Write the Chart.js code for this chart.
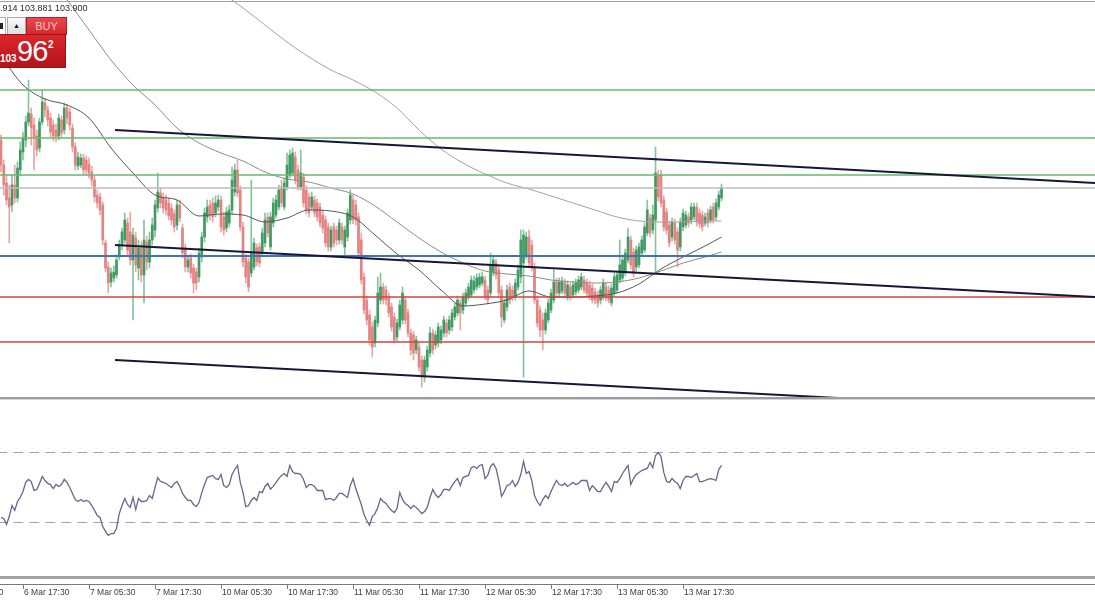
<!DOCTYPE html>
<html>
<head>
<meta charset="utf-8">
<script src="https://cdn.jsdelivr.net/npm/chart.js@4.4.0/dist/chart.umd.min.js"></script>
<style>
  html, body { margin: 0; padding: 0; background: #fff; }
  #wrap { position: relative; width: 1095px; height: 600px; overflow: hidden; font-family: "Liberation Sans", Arial, sans-serif; }
  canvas { position: absolute; left: 0; }
  #main { top: 0; }
  #rsi { top: 400px; }
  .topline { position: absolute; left: 0; top: 1px; width: 1095px; height: 1px; background: #a4a4a4; }
  .sep { position: absolute; left: 0; top: 397px; width: 1095px; height: 2px; background: #9c9c9c; }
  .sep2 { position: absolute; left: 0; top: 399px; width: 1095px; height: 1px; background: #d4d4d4; }
  #ohlc { position: absolute; left: 0; top: 3px; font-size: 9px; color: #2a2a2a; }
  #tw { position: absolute; left: 0; top: 17px; width: 67px; height: 50px; }
  #tw .ico { position: absolute; left: 0; top: 0; width: 5px; height: 16px; background: #fff; border: 1px solid #b0b0b0; border-left: none; }
  #tw .ico i { position: absolute; left: 0; top: 5px; width: 3px; height: 6px; background: #222; }
  #tw .up { position: absolute; left: 7px; top: 0; width: 17px; height: 16px; background: linear-gradient(#fafafa, #dedede); border: 1px solid #a8a8a8; font-size: 7px; line-height: 16px; text-align: center; color: #111; }
  #tw .buy { position: absolute; left: 26px; top: 0; width: 39px; height: 16px; background: linear-gradient(#e8484d, #d22a31); border: 1px solid #b71b22; color: #f9c3c3; font-size: 11px; line-height: 16px; text-align: center; }
  #tw .px { position: absolute; left: 0; top: 17px; width: 65px; height: 32px; background: linear-gradient(#dc262d, #b4121a); border: 1px solid #a40f16; border-left: none; color: #fff; }
  #tw .px .a { position: absolute; left: 0; top: 18px; font-size: 10px; font-weight: bold; }
  #tw .px .b { position: absolute; left: 17px; top: 0; font-size: 29px; letter-spacing: -1px; }
  #tw .px .c { position: absolute; left: 48px; top: 4px; font-size: 10px; font-weight: bold; }
</style>
</head>
<body>
<div id="wrap">
  <canvas id="main" width="1095" height="397"></canvas>
  <canvas id="rsi" width="1095" height="200"></canvas>
  <div class="topline"></div>
  <div class="sep"></div>
  <div class="sep2"></div>
  <div id="ohlc">.914 103.881 103.900</div>
  <div id="tw">
    <div class="ico"><i></i></div>
    <div class="up">&#9650;</div>
    <div class="buy">BUY</div>
    <div class="px"><span class="a">103</span><span class="b">96</span><span class="c">2</span></div>
  </div>
</div>
<script>
// 30 minute candles, index 0 = first visible bar
const candleOpen = [
  104.200, 104.075, 103.985, 103.910, 103.875, 103.975, 103.910, 104.050, 104.140, 104.200,
  104.290, 104.330, 104.275, 104.220, 104.160, 104.290, 104.385, 104.350, 104.310, 104.275,
  104.250, 104.220, 104.300, 104.250, 104.360, 104.340, 104.260, 104.165, 104.070, 104.075,
  104.110, 104.100, 104.080, 104.040, 104.000, 103.925, 103.915, 103.875, 103.685, 103.565,
  103.490, 103.510, 103.525, 103.615, 103.675, 103.700, 103.785, 103.740, 103.600, 103.710,
  103.560, 103.660, 103.525, 103.690, 103.590, 103.700, 103.750, 103.860, 103.935, 103.910,
  103.900, 103.885, 103.860, 103.830, 103.775, 103.875, 103.760, 103.660, 103.565, 103.610,
  103.560, 103.540, 103.515, 103.615, 103.715, 103.815, 103.875, 103.885, 103.835, 103.865,
  103.900, 103.815, 103.760, 103.785, 103.850, 103.940, 104.050, 103.950, 103.765, 103.610,
  103.590, 103.535, 103.565, 103.660, 103.665, 103.635, 103.685, 103.815, 103.665, 103.785,
  103.825, 103.865, 103.965, 103.865, 103.965, 104.025, 104.035, 104.115, 104.050, 103.965,
  104.015, 103.950, 103.915, 103.865, 103.900, 103.885, 103.865, 103.825, 103.800, 103.765,
  103.665, 103.765, 103.750, 103.700, 103.765, 103.665, 103.715, 103.800, 103.900, 103.875,
  103.815, 103.700, 103.515, 103.400, 103.325, 103.265, 103.185, 103.285, 103.400, 103.465,
  103.450, 103.415, 103.365, 103.315, 103.215, 103.265, 103.300, 103.400, 103.335, 103.235,
  103.225, 103.150, 103.165, 103.100, 103.015, 103.065, 103.135, 103.235, 103.175, 103.185,
  103.200, 103.235, 103.285, 103.250, 103.265, 103.315, 103.335, 103.385, 103.350, 103.385,
  103.415, 103.425, 103.450, 103.465, 103.475, 103.485, 103.500, 103.450, 103.435, 103.535,
  103.585, 103.550, 103.450, 103.300, 103.365, 103.465, 103.450, 103.415, 103.465, 103.515,
  103.585, 103.625, 103.715, 103.675, 103.565, 103.400, 103.350, 103.300, 103.250, 103.300,
  103.350, 103.400, 103.490, 103.435, 103.445, 103.485, 103.415, 103.465, 103.425, 103.440,
  103.450, 103.465, 103.500, 103.485, 103.475, 103.460, 103.440, 103.425, 103.400, 103.415,
  103.465, 103.450, 103.385, 103.435, 103.450, 103.500, 103.510, 103.535, 103.600, 103.700,
  103.640, 103.565, 103.575, 103.635, 103.650, 103.735, 103.810, 103.750, 103.800, 104.025,
  104.025, 103.900, 103.840, 103.775, 103.715, 103.785, 103.740, 103.665, 103.765, 103.775,
  103.815, 103.800, 103.815, 103.865, 103.835, 103.825, 103.785, 103.835, 103.800, 103.865,
  103.815, 103.865, 103.910
];
const candleHigh = [
  104.225, 104.100, 104.025, 103.975, 104.025, 104.075, 104.090, 104.190, 104.240, 104.320,
  104.500, 104.360, 104.310, 104.250, 104.310, 104.450, 104.410, 104.370, 104.335, 104.300,
  104.280, 104.330, 104.320, 104.385, 104.380, 104.360, 104.280, 104.185, 104.140, 104.130,
  104.130, 104.120, 104.110, 104.070, 104.020, 103.950, 103.935, 103.890, 103.700, 103.590,
  103.560, 103.570, 103.625, 103.700, 103.760, 103.835, 103.810, 103.840, 103.760, 103.740,
  103.700, 103.690, 103.800, 103.720, 103.740, 103.810, 103.900, 104.035, 103.960, 103.935,
  103.925, 103.910, 103.880, 103.850, 103.900, 103.900, 103.780, 103.680, 103.625, 103.630,
  103.580, 103.560, 103.660, 103.740, 103.860, 103.900, 103.900, 103.910, 103.920, 103.925,
  103.920, 103.840, 103.865, 103.875, 104.065, 104.080, 104.100, 103.970, 103.790, 103.630,
  103.610, 104.000, 103.710, 103.680, 103.685, 103.760, 103.835, 103.835, 103.840, 103.910,
  103.925, 103.975, 104.000, 104.010, 104.135, 104.150, 104.160, 104.140, 104.075, 104.150,
  104.035, 103.970, 103.935, 103.940, 103.920, 103.905, 103.885, 103.845, 103.820, 103.785,
  103.770, 103.785, 103.770, 103.805, 103.785, 103.770, 103.855, 103.950, 103.925, 103.900,
  103.835, 103.735, 103.535, 103.420, 103.350, 103.290, 103.320, 103.515, 103.535, 103.485,
  103.470, 103.435, 103.385, 103.335, 103.305, 103.400, 103.465, 103.420, 103.355, 103.255,
  103.245, 103.220, 103.185, 103.120, 103.120, 103.170, 103.265, 103.255, 103.245, 103.285,
  103.270, 103.320, 103.305, 103.320, 103.355, 103.385, 103.420, 103.405, 103.435, 103.455,
  103.485, 103.520, 103.520, 103.530, 103.535, 103.540, 103.520, 103.470, 103.635, 103.625,
  103.605, 103.570, 103.470, 103.405, 103.475, 103.485, 103.470, 103.505, 103.575, 103.750,
  103.750, 103.740, 103.750, 103.700, 103.585, 103.420, 103.370, 103.335, 103.355, 103.405,
  103.455, 103.550, 103.510, 103.510, 103.515, 103.505, 103.495, 103.485, 103.495, 103.505,
  103.520, 103.535, 103.520, 103.505, 103.495, 103.480, 103.460, 103.445, 103.470, 103.505,
  103.485, 103.470, 103.480, 103.535, 103.545, 103.700, 103.625, 103.655, 103.760, 103.720,
  103.660, 103.670, 103.685, 103.720, 103.785, 103.900, 103.830, 103.875, 104.165, 104.050,
  104.050, 103.920, 103.860, 103.795, 103.810, 103.805, 103.760, 103.810, 103.855, 103.845,
  103.835, 103.885, 103.885, 103.885, 103.855, 103.845, 103.835, 103.855, 103.870, 103.885,
  103.905, 103.945, 103.980
];
const candleLow = [
  104.040, 103.925, 103.875, 103.685, 103.840, 103.885, 103.890, 104.020, 104.100, 104.165,
  104.270, 104.175, 104.050, 104.120, 104.140, 104.275, 104.315, 104.270, 104.215, 104.195,
  104.190, 104.200, 104.215, 104.230, 104.280, 104.250, 104.140, 104.050, 104.050, 104.060,
  104.025, 104.025, 104.010, 103.970, 103.890, 103.860, 103.825, 103.675, 103.540, 103.435,
  103.465, 103.490, 103.510, 103.600, 103.650, 103.685, 103.625, 103.575, 103.300, 103.540,
  103.500, 103.490, 103.385, 103.550, 103.560, 103.675, 103.715, 103.840, 103.860, 103.835,
  103.825, 103.800, 103.775, 103.740, 103.750, 103.790, 103.610, 103.540, 103.540, 103.510,
  103.435, 103.450, 103.490, 103.590, 103.690, 103.790, 103.800, 103.790, 103.815, 103.845,
  103.740, 103.725, 103.740, 103.765, 103.830, 103.920, 103.915, 103.745, 103.565, 103.485,
  103.440, 103.515, 103.550, 103.570, 103.565, 103.615, 103.665, 103.715, 103.650, 103.765,
  103.810, 103.850, 103.865, 103.850, 103.950, 104.010, 104.020, 103.980, 103.950, 103.950,
  103.865, 103.830, 103.815, 103.850, 103.815, 103.795, 103.765, 103.735, 103.665, 103.645,
  103.645, 103.665, 103.675, 103.680, 103.680, 103.615, 103.695, 103.780, 103.780, 103.775,
  103.615, 103.480, 103.330, 103.275, 103.175, 103.115, 103.165, 103.265, 103.380, 103.380,
  103.375, 103.315, 103.245, 103.185, 103.195, 103.250, 103.280, 103.280, 103.215, 103.125,
  103.100, 103.130, 103.045, 102.965, 102.990, 103.045, 103.115, 103.130, 103.155, 103.165,
  103.180, 103.215, 103.215, 103.230, 103.245, 103.300, 103.320, 103.250, 103.330, 103.370,
  103.400, 103.410, 103.435, 103.450, 103.460, 103.470, 103.400, 103.380, 103.415, 103.520,
  103.505, 103.415, 103.265, 103.285, 103.345, 103.380, 103.395, 103.400, 103.450, 103.485,
  103.015, 103.605, 103.565, 103.545, 103.380, 103.265, 103.215, 103.150, 103.230, 103.285,
  103.335, 103.385, 103.415, 103.420, 103.430, 103.415, 103.400, 103.400, 103.410, 103.425,
  103.435, 103.450, 103.435, 103.420, 103.400, 103.385, 103.380, 103.365, 103.380, 103.400,
  103.395, 103.385, 103.370, 103.420, 103.435, 103.485, 103.495, 103.520, 103.585, 103.555,
  103.515, 103.545, 103.560, 103.620, 103.635, 103.720, 103.715, 103.730, 103.540, 103.895,
  103.865, 103.745, 103.730, 103.665, 103.695, 103.680, 103.565, 103.645, 103.745, 103.760,
  103.765, 103.780, 103.800, 103.770, 103.760, 103.745, 103.770, 103.765, 103.785, 103.785,
  103.800, 103.850, 103.895
];
const candleClose = [
  104.075, 103.975, 103.900, 103.865, 103.975, 103.910, 104.060, 104.150, 104.210, 104.290,
  104.335, 104.260, 104.215, 104.150, 104.290, 104.390, 104.350, 104.300, 104.240, 104.220,
  104.215, 104.310, 104.235, 104.360, 104.310, 104.275, 104.165, 104.075, 104.115, 104.110,
  104.050, 104.050, 104.035, 104.000, 103.915, 103.885, 103.850, 103.700, 103.560, 103.485,
  103.535, 103.540, 103.600, 103.675, 103.740, 103.800, 103.650, 103.600, 103.725, 103.575,
  103.660, 103.525, 103.700, 103.590, 103.700, 103.775, 103.875, 103.940, 103.885, 103.860,
  103.850, 103.820, 103.800, 103.765, 103.875, 103.810, 103.635, 103.565, 103.600, 103.535,
  103.485, 103.485, 103.635, 103.715, 103.835, 103.865, 103.825, 103.815, 103.885, 103.900,
  103.765, 103.750, 103.840, 103.850, 104.000, 104.050, 103.935, 103.765, 103.590, 103.515,
  103.465, 103.635, 103.685, 103.590, 103.585, 103.735, 103.800, 103.735, 103.815, 103.885,
  103.900, 103.950, 103.885, 103.985, 104.075, 104.125, 104.135, 104.000, 103.965, 104.035,
  103.885, 103.850, 103.835, 103.915, 103.835, 103.815, 103.785, 103.760, 103.685, 103.665,
  103.750, 103.685, 103.700, 103.785, 103.700, 103.750, 103.835, 103.925, 103.800, 103.800,
  103.635, 103.500, 103.350, 103.300, 103.200, 103.165, 103.300, 103.435, 103.465, 103.400,
  103.400, 103.335, 103.265, 103.200, 103.285, 103.375, 103.435, 103.300, 103.235, 103.150,
  103.135, 103.200, 103.065, 103.015, 103.100, 103.150, 103.235, 103.150, 103.225, 103.265,
  103.250, 103.300, 103.235, 103.300, 103.335, 103.365, 103.400, 103.335, 103.415, 103.435,
  103.465, 103.500, 103.495, 103.510, 103.515, 103.515, 103.415, 103.400, 103.575, 103.600,
  103.525, 103.435, 103.315, 103.385, 103.450, 103.400, 103.415, 103.485, 103.550, 103.700,
  103.725, 103.715, 103.585, 103.565, 103.400, 103.285, 103.250, 103.250, 103.335, 103.385,
  103.435, 103.490, 103.435, 103.490, 103.495, 103.435, 103.475, 103.415, 103.475, 103.485,
  103.500, 103.515, 103.450, 103.435, 103.415, 103.400, 103.400, 103.385, 103.450, 103.485,
  103.410, 103.400, 103.460, 103.515, 103.525, 103.575, 103.600, 103.635, 103.715, 103.575,
  103.535, 103.650, 103.665, 103.700, 103.765, 103.850, 103.735, 103.825, 104.035, 103.915,
  103.885, 103.765, 103.750, 103.685, 103.790, 103.700, 103.650, 103.790, 103.835, 103.825,
  103.785, 103.865, 103.865, 103.790, 103.780, 103.765, 103.815, 103.785, 103.850, 103.800,
  103.885, 103.925, 103.960
];

// RSI(14) under the price panel, one value per candle
const rsiValues = [
  32.9, 32.3, 28.9, 33.4, 39.7, 36.9, 42.0, 44.3, 47.7, 52.9,
  54.6, 53.4, 48.3, 48.9, 52.3, 56.3, 54.0, 52.3, 51.7, 49.4,
  51.7, 50.6, 51.7, 54.6, 52.9, 50.0, 46.6, 43.1, 42.0, 43.1,
  42.0, 42.6, 42.0, 39.7, 36.9, 34.0, 32.9, 27.7, 24.9, 22.6,
  23.7, 23.7, 26.6, 35.1, 39.7, 43.7, 40.3, 38.6, 44.3, 37.4,
  43.7, 42.0, 42.0, 42.6, 45.4, 43.7, 50.0, 55.7, 53.4, 52.9,
  52.3, 51.1, 50.0, 52.3, 53.4, 50.6, 46.6, 44.3, 42.6, 42.6,
  40.3, 39.1, 41.4, 47.1, 51.7, 55.7, 56.3, 56.9, 55.1, 54.6,
  57.4, 51.1, 50.0, 51.7, 57.4, 60.3, 62.6, 52.9, 47.1, 39.1,
  39.7, 42.6, 44.3, 42.6, 47.7, 47.1, 50.6, 52.3, 49.1, 50.6,
  52.9, 55.1, 56.9, 58.0, 56.3, 62.6, 59.1, 58.0, 58.0, 57.4,
  54.6, 50.0, 51.7, 51.7, 50.6, 48.3, 48.3, 48.3, 43.1, 43.7,
  43.7, 42.6, 44.3, 46.6, 46.6, 45.4, 44.3, 51.1, 55.1, 49.4,
  44.9, 40.3, 34.6, 31.1, 28.3, 33.4, 35.1, 38.6, 43.7, 42.0,
  40.9, 38.6, 36.9, 35.7, 38.0, 47.1, 43.1, 40.9, 39.7, 38.0,
  39.7, 38.6, 36.9, 35.1, 36.3, 38.6, 44.3, 48.9, 46.0, 44.3,
  46.0, 48.9, 48.9, 48.3, 51.1, 53.4, 55.1, 51.1, 55.7, 56.3,
  56.9, 61.4, 62.0, 60.9, 62.6, 63.1, 55.1, 56.9, 62.0, 63.7,
  60.9, 54.0, 44.9, 47.7, 51.1, 51.7, 54.0, 50.6, 52.9, 57.4,
  64.9, 58.0, 59.1, 54.0, 45.4, 42.0, 39.7, 43.1, 45.4, 43.7,
  47.7, 51.1, 54.0, 51.7, 51.1, 52.3, 50.6, 51.7, 52.9, 51.7,
  52.3, 54.0, 54.0, 54.0, 48.3, 51.1, 49.4, 47.7, 47.7, 50.6,
  52.9, 50.6, 47.7, 53.4, 52.9, 55.1, 58.0, 60.3, 62.6, 51.7,
  55.1, 57.4, 58.6, 59.7, 60.3, 60.9, 64.3, 61.4, 68.3, 70.0,
  67.7, 58.6, 53.4, 52.9, 55.1, 53.4, 52.3, 49.4, 54.0, 56.3,
  56.3, 55.7, 56.9, 58.0, 53.4, 53.4, 54.0, 54.6, 55.1, 54.6,
  54.0, 60.3, 62.6
];
const rsiLevels = [70, 30];

// moving averages, read every 8 bars
const maIndex = [0, 8, 16, 24, 32, 40, 48, 56, 64, 72, 80, 88, 96, 104, 112, 120, 128,
  136, 144, 152, 160, 168, 176, 184, 192, 200, 208, 216, 224, 232, 240, 248, 256, 262];
const maFast = [104.620, 104.475, 104.405, 104.375, 104.310, 104.160, 104.035, 103.925, 103.900,
  103.820, 103.830, 103.825, 103.790, 103.810, 103.850, 103.845, 103.815, 103.725, 103.630,
  103.550, 103.450, 103.370, 103.380, 103.400, 103.445, 103.415, 103.415, 103.420, 103.435,
  103.480, 103.555, 103.615, 103.670, 103.715];
const maMid = [105.300, 105.150, 105.025, 104.900, 104.750, 104.600, 104.475, 104.375, 104.260,
  104.185, 104.135, 104.095, 104.040, 104.005, 103.990, 103.960, 103.930, 103.870, 103.790,
  103.710, 103.640, 103.585, 103.545, 103.530, 103.520, 103.500, 103.490, 103.485, 103.490,
  103.510, 103.545, 103.585, 103.615, 103.640];
const maSlow = [105.700, 105.625, 105.550, 105.475, 105.400, 105.340, 105.275, 105.210, 105.125,
  105.035, 104.940, 104.860, 104.775, 104.690, 104.615, 104.550, 104.500, 104.440, 104.360,
  104.250, 104.155, 104.085, 104.030, 103.985, 103.955, 103.920, 103.885, 103.850, 103.815,
  103.795, 103.790, 103.790, 103.795, 103.795];

// horizontal levels drawn on the chart
const levelPrices = [104.450, 104.210, 104.025, 103.960, 103.620, 103.415, 103.190];
const levelColors = ['#68b968', '#68b968', '#68b968', '#bcbcbc', '#3d74b6', '#d2443e', '#d2443e'];

// channel trend lines: [start bar, start price, end bar, end price]
const trendLines = [
  [41.45, 104.250, 397.8, 103.985],
  [41.45, 103.675, 397.8, 103.415],
  [41.45, 103.100, 304.4, 102.910]
];

const timeLabels = ['6 Mar 05:30', '6 Mar 17:30', '7 Mar 05:30', '7 Mar 17:30', '10 Mar 05:30',
  '10 Mar 17:30', '11 Mar 05:30', '11 Mar 17:30', '12 Mar 05:30', '12 Mar 17:30',
  '13 Mar 05:30', '13 Mar 17:30'];
const firstLabelBar = -16;
const barsPerLabel = 24;

const xMin = -0.364;
const xMax = 397.8;

Chart.defaults.font.family = '"Liberation Sans", Arial, sans-serif';

const isUp = i => candleClose[i] >= candleOpen[i];

const baseOptions = (yMin, yMax, padBottom) => ({
  responsive: false,
  animation: false,
  devicePixelRatio: 1,
  events: [],
  layout: { padding: { left: 0, right: 0, top: 0, bottom: padBottom } },
  plugins: { legend: { display: false }, tooltip: { enabled: false } },
  scales: {
    x: { type: 'linear', min: xMin, max: xMax, display: false, offset: false },
    y: { type: 'linear', min: yMin, max: yMax, display: false }
  },
  elements: { point: { radius: 0 } }
});

const flatLine = (price, color, width, order) => ({
  type: 'line',
  data: [{ x: xMin - 1, y: price }, { x: xMax + 1, y: price }],
  borderColor: color,
  borderWidth: width,
  order: order
});

const maLine = (values, color, width) => ({
  type: 'line',
  data: maIndex.map((k, j) => ({ x: k, y: values[j] })),
  borderColor: color,
  borderWidth: width,
  cubicInterpolationMode: 'monotone',
  order: 4
});

const mainDatasets = [
  {
    type: 'bar',
    data: candleHigh.map((h, i) => ({ x: i, y: [candleLow[i], h] })),
    backgroundColor: candleHigh.map((h, i) => isUp(i) ? '#86c29c' : '#e9a6a6'),
    barThickness: 1,
    grouped: false,
    borderWidth: 0,
    order: 6
  },
  {
    type: 'bar',
    data: candleOpen.map((o, i) => ({ x: i, y: [o, candleClose[i]] })),
    backgroundColor: candleOpen.map((o, i) => isUp(i) ? '#3f9b61' : '#e58282'),
    barThickness: 2,
    grouped: false,
    borderWidth: 0,
    order: 5
  },
  maLine(maSlow, '#a2a2a2', 1),
  maLine(maMid, '#8c8c8c', 1),
  maLine(maFast, '#555555', 1)
];
levelPrices.forEach((p, k) => {
  mainDatasets.push(flatLine(p, levelColors[k], k === 4 ? 2 : 1.5, 3));
});
trendLines.forEach(t => {
  mainDatasets.push({
    type: 'line',
    data: [{ x: t[0], y: t[1] }, { x: t[2], y: t[3] }],
    borderColor: '#161638',
    borderWidth: 2,
    order: 1
  });
});

new Chart(document.getElementById('main'), {
  type: 'line',
  data: { datasets: mainDatasets },
  options: baseOptions(102.915, 104.900, 0)
});

const timeAxis = {
  id: 'timeAxis',
  afterDraw(chart) {
    const ctx = chart.ctx;
    const xs = chart.scales.x;
    const b = chart.chartArea.bottom;
    ctx.save();
    ctx.fillStyle = '#a2a2a2';
    ctx.fillRect(0, b + 1, chart.width, 3);
    ctx.fillStyle = '#7a7a7a';
    ctx.fillRect(0, b + 9, chart.width, 1);
    ctx.font = '8.5px "Liberation Sans", Arial, sans-serif';
    ctx.textBaseline = 'middle';
    timeLabels.forEach((t, k) => {
      const px = Math.round(xs.getPixelForValue(firstLabelBar + k * barsPerLabel));
      ctx.fillStyle = '#7a7a7a';
      ctx.fillRect(px, b + 10, 1, 4);
      ctx.fillStyle = '#3c3c3c';
      ctx.fillText(t, px + 1, b + 18);
    });
    ctx.restore();
  }
};

const rsiDatasets = rsiLevels.map(v => ({
  type: 'line',
  data: [{ x: xMin - 1, y: v }, { x: xMax + 1, y: v }],
  borderColor: '#a3a3b8',
  borderWidth: 1,
  borderDash: [10, 6],
  order: 2
}));
rsiDatasets.push({
  type: 'line',
  data: rsiValues.map((v, i) => ({ x: i, y: v })),
  borderColor: '#66668e',
  borderWidth: 1.3,
  order: 1
});

new Chart(document.getElementById('rsi'), {
  type: 'line',
  data: { datasets: rsiDatasets },
  options: baseOptions(0, 100, 25),
  plugins: [timeAxis]
});
</script>
</body>
</html>
